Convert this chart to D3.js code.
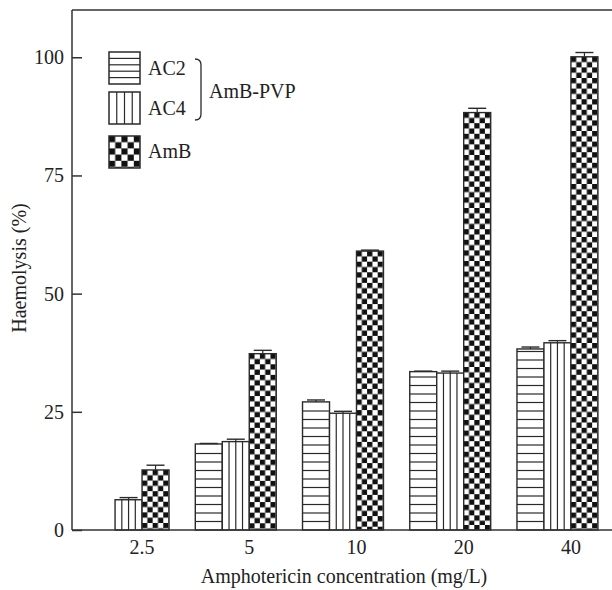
<!DOCTYPE html>
<html><head><meta charset="utf-8">
<script src="https://cdn.jsdelivr.net/npm/d3@7"></script>
<style>
html,body{margin:0;padding:0;background:#fff;}
svg{display:block;}
text{font-family:"Liberation Serif","Times New Roman",serif;fill:#222;}
</style></head>
<body>
<svg id="chart" width="612" height="590"></svg>
<script>
const categories = ["2.5","5","10","20","40"];
const seriesNames = ["AC2","AC4","AmB"];
const ac2 = [0, 18.2, 27.1, 33.5, 38.3];
const ac4 = [6.4, 18.7, 24.7, 33.2, 39.6];
const amb = [12.7, 37.3, 59.0, 88.3, 100.1];
const ac2Err = [0, 0, 0.3, 0, 0.3];
const ac4Err = [0.35, 0.4, 0.3, 0.3, 0.35];
const ambErr = [0.9, 0.6, 0.1, 0.8, 0.8];
const yTicks = [0, 25, 50, 75, 100];
const yTitle = "Haemolysis (%)";
const xTitle = "Amphotericin concentration (mg/L)";
const groupLabel = "AmB-PVP";

(function () {
const values = [ac2, ac4, amb];
const errs = [ac2Err, ac4Err, ambErr];

const svg = d3.select("#chart");
const pLeft = 72, pRight = 614, pTop = 10, pBottom = 530;
const ink = "#2a2a2a";
const fs = 20;

const x0 = d3.scaleBand().domain(categories).range([pLeft, pRight]).paddingInner(0.245).paddingOuter(0.15);
const x1 = d3.scaleBand().domain(seriesNames).range([0, x0.bandwidth()]);
const y = d3.scaleLinear().domain([0, 110]).range([pBottom, pTop]);

const defs = svg.append("defs");
const cell = 5.3;

function drawBar(g, kind, bx, by, bw, bh, id) {
  if (bh <= 0) return;
  if (kind === "AmB") {
    const p = defs.append("pattern").attr("id", id).attr("patternUnits", "userSpaceOnUse")
      .attr("x", bx).attr("y", by).attr("width", cell * 2).attr("height", cell * 2);
    p.append("rect").attr("width", cell * 2).attr("height", cell * 2).attr("fill", "#fff");
    p.append("rect").attr("x", 0).attr("y", 0).attr("width", cell).attr("height", cell).attr("fill", "#111");
    p.append("rect").attr("x", cell).attr("y", cell).attr("width", cell).attr("height", cell).attr("fill", "#111");
    g.append("rect").attr("x", bx).attr("y", by).attr("width", bw).attr("height", bh)
      .attr("fill", `url(#${id})`).attr("stroke", ink).attr("stroke-width", 1.4);
  } else {
    g.append("rect").attr("x", bx).attr("y", by).attr("width", bw).attr("height", bh)
      .attr("fill", "#fff").attr("stroke", ink).attr("stroke-width", 1.4);
    if (kind === "AC2") {
      for (let yy = by + bh - 8.5; yy > by + 2; yy -= 8.5) {
        g.append("line").attr("x1", bx).attr("x2", bx + bw).attr("y1", yy).attr("y2", yy)
          .attr("stroke", ink).attr("stroke-width", 1.2);
      }
    } else {
      for (let k = 1; k < 4; k++) {
        const xx = bx + bw * k / 4;
        g.append("line").attr("x1", xx).attr("x2", xx).attr("y1", by).attr("y2", by + bh)
          .attr("stroke", ink).attr("stroke-width", 1.2);
      }
    }
  }
}

const barsG = svg.append("g");
seriesNames.forEach((s, si) => {
  categories.forEach((c, ci) => {
    const v = values[si][ci];
    const bx = x0(c) + x1(s);
    const bw = x1.bandwidth();
    const by = y(v);
    drawBar(barsG, s, bx, by, bw, y(0) - by, `pat-${si}-${ci}`);
    const e = errs[si][ci];
    if (v > 0) {
      const cx = bx + bw / 2;
      const ye = y(v + e);
      barsG.append("line").attr("x1", cx).attr("x2", cx).attr("y1", by).attr("y2", ye - 0.5)
        .attr("stroke", ink).attr("stroke-width", 1.2);
      barsG.append("line").attr("x1", cx - 9).attr("x2", cx + 9).attr("y1", ye - 0.5).attr("y2", ye - 0.5)
        .attr("stroke", ink).attr("stroke-width", 1.4);
    }
  });
});

const axG = svg.append("g");
axG.append("line").attr("x1", pLeft).attr("x2", pLeft).attr("y1", pTop).attr("y2", pBottom).attr("stroke", "#333").attr("stroke-width", 1.5);
axG.append("line").attr("x1", pLeft).attr("x2", 612).attr("y1", pTop).attr("y2", pTop).attr("stroke", "#333").attr("stroke-width", 1.5);
axG.append("line").attr("x1", pLeft).attr("x2", 612).attr("y1", pBottom).attr("y2", pBottom).attr("stroke", "#333").attr("stroke-width", 1.5);

const yAxis = d3.axisRight(y).tickValues(yTicks).tickSize(10).tickFormat(d3.format("d"));
const yg = svg.append("g").attr("transform", `translate(${pLeft},0)`).call(yAxis);
yg.select(".domain").remove();
yg.selectAll(".tick line").attr("stroke", "#333").attr("stroke-width", 1.5);
yg.selectAll(".tick text").attr("x", -8).attr("text-anchor", "end").attr("font-size", fs)
  .attr("font-family", "Liberation Serif").attr("fill", "#222");

svg.append("g").selectAll("text").data(categories).join("text")
  .attr("x", c => x0(c) + x1("AmB"))
  .attr("y", 554)
  .attr("text-anchor", "middle").attr("font-size", fs).text(c => c);

svg.append("text").attr("x", 344).attr("y", 583).attr("text-anchor", "middle")
  .attr("font-size", fs).text(xTitle);

svg.append("text").attr("transform", "translate(26,268) rotate(-90)").attr("text-anchor", "middle")
  .attr("font-size", fs).text(yTitle);

const lg = svg.append("g");
const lbx = 109, lbw = 31, lbh = 32;
const legendY = [52, 92, 136];
lg.append("rect").attr("x", lbx).attr("y", legendY[0]).attr("width", lbw).attr("height", lbh)
  .attr("fill", "#fff").attr("stroke", ink).attr("stroke-width", 1.5);
for (let k = 1; k < 5; k++) {
  const yy = legendY[0] + lbh * k / 5;
  lg.append("line").attr("x1", lbx).attr("x2", lbx + lbw).attr("y1", yy).attr("y2", yy).attr("stroke", ink).attr("stroke-width", 1.2);
}
lg.append("rect").attr("x", lbx).attr("y", legendY[1]).attr("width", lbw).attr("height", lbh)
  .attr("fill", "#fff").attr("stroke", ink).attr("stroke-width", 1.5);
for (let k = 1; k < 4; k++) {
  const xx = lbx + lbw * k / 4;
  lg.append("line").attr("x1", xx).attr("x2", xx).attr("y1", legendY[1]).attr("y2", legendY[1] + lbh).attr("stroke", ink).attr("stroke-width", 1.2);
}
const lc = lbw / 5;
const lp = defs.append("pattern").attr("id", "legchk").attr("patternUnits", "userSpaceOnUse")
  .attr("x", lbx).attr("y", legendY[2]).attr("width", lc * 2).attr("height", lc * 2);
lp.append("rect").attr("width", lc * 2).attr("height", lc * 2).attr("fill", "#fff");
lp.append("rect").attr("width", lc).attr("height", lc).attr("fill", "#111");
lp.append("rect").attr("x", lc).attr("y", lc).attr("width", lc).attr("height", lc).attr("fill", "#111");
lg.append("rect").attr("x", lbx).attr("y", legendY[2]).attr("width", lbw).attr("height", lbh)
  .attr("fill", "url(#legchk)").attr("stroke", ink).attr("stroke-width", 1.5);

const legendBase = [75, 115, 158];
seriesNames.forEach((s, i) => {
  lg.append("text").attr("x", 148).attr("y", legendBase[i])
    .attr("font-size", fs).text(s);
});
lg.append("path").attr("d", "M195,59 Q201,59 201,65 L201,114 Q201,120 195,120")
  .attr("fill", "none").attr("stroke", ink).attr("stroke-width", 1.3);
lg.append("text").attr("x", 209).attr("y", 98).attr("font-size", fs).text(groupLabel);
})();
</script>
</body></html>
